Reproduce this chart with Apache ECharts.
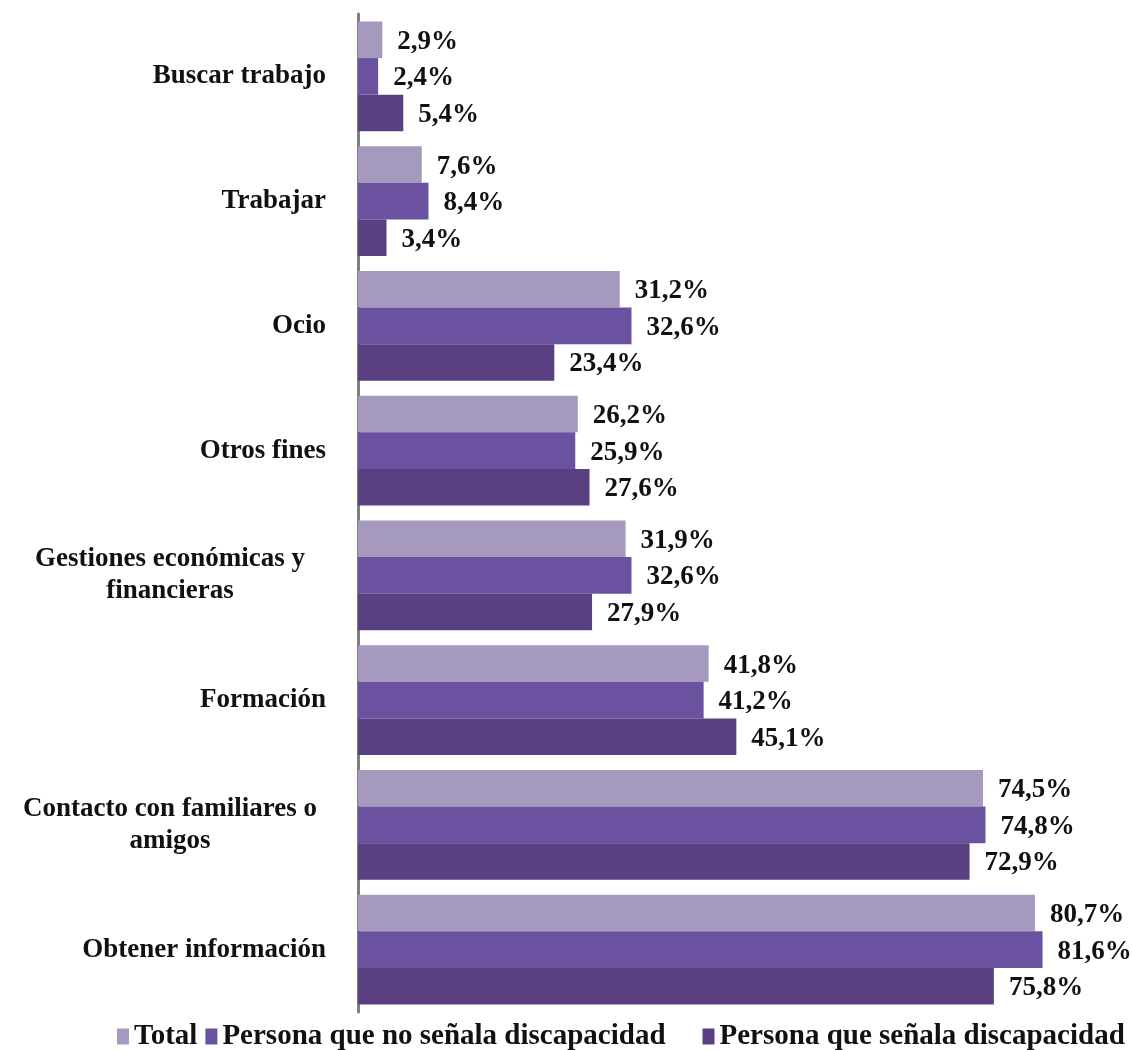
<!DOCTYPE html>
<html><head><meta charset="utf-8">
<script src="https://cdn.jsdelivr.net/npm/echarts@6/dist/echarts.min.js"></script>
<style>html,body{margin:0;padding:0;background:#fff}#c{width:1132px;height:1050px}</style>
</head><body><div id="c"></div>
<script>
const categories = ['Buscar trabajo', 'Trabajar', 'Ocio', 'Otros fines', 'Gestiones económicas y\nfinancieras', 'Formación', 'Contacto con familiares o\namigos', 'Obtener información'];
const seriesNames = ['Total', 'Persona que no señala discapacidad', 'Persona que señala discapacidad'];
const total = [2.9, 7.6, 31.2, 26.2, 31.9, 41.8, 74.5, 80.7];
const noDisc = [2.4, 8.4, 32.6, 25.9, 32.6, 41.2, 74.8, 81.6];
const siDisc = [5.4, 3.4, 23.4, 27.6, 27.9, 45.1, 72.9, 75.8];
const colors = ['#A599BE', '#6B52A0', '#5A4080'];
const FONT = 'Liberation Serif';

const chart = echarts.init(document.getElementById('c'), null, {renderer: 'canvas'});
const lbl = {
  show: true, position: 'right', distance: 15, offset: [0, 2],
  fontFamily: FONT, fontWeight: 'bold', fontSize: 27, color: '#111',
  formatter: p => p.value.toFixed(1).replace('.', ',') + '%'
};
const mk = (name, data, i) => ({
  name, type: 'bar', data, barGap: '0%', barCategoryGap: '12%',
  itemStyle: {color: colors[i]}, label: lbl
});
chart.setOption({
  animation: false,
  grid: {left: 358, right: 19, top: 14, bottom: 38},
  legend: {
    top: 1017, left: 112, itemWidth: 12, itemHeight: 16, itemGap: 8,
    icon: 'rect',
    textStyle: {fontFamily: FONT, fontWeight: 'bold', fontSize: 29, color: '#111'},
    formatter: name => name === seriesNames[1] ? name + '    ' : name,
    data: seriesNames
  },
  xAxis: {type: 'value', min: 0, max: 90, show: false},
  yAxis: {
    type: 'category', inverse: true, data: categories,
    axisLine: {show: true, lineStyle: {color: '#7f7f7f', width: 3}},
    axisTick: {show: false},
    axisLabel: {
      margin: 32, fontFamily: FONT, fontWeight: 'bold', fontSize: 27, color: '#111',
      lineHeight: 32,
      formatter: v => v.indexOf('\n') >= 0 ? v.split('\n').map(l => '{m|' + l + '}').join('\n') : v,
      rich: {m: {width: 312, align: 'center', fontFamily: FONT, fontWeight: 'bold', fontSize: 27, color: '#111', lineHeight: 32}}
    }
  },
  series: [mk(seriesNames[0], total, 0), mk(seriesNames[1], noDisc, 1), mk(seriesNames[2], siDisc, 2)]
});
</script></body></html>
